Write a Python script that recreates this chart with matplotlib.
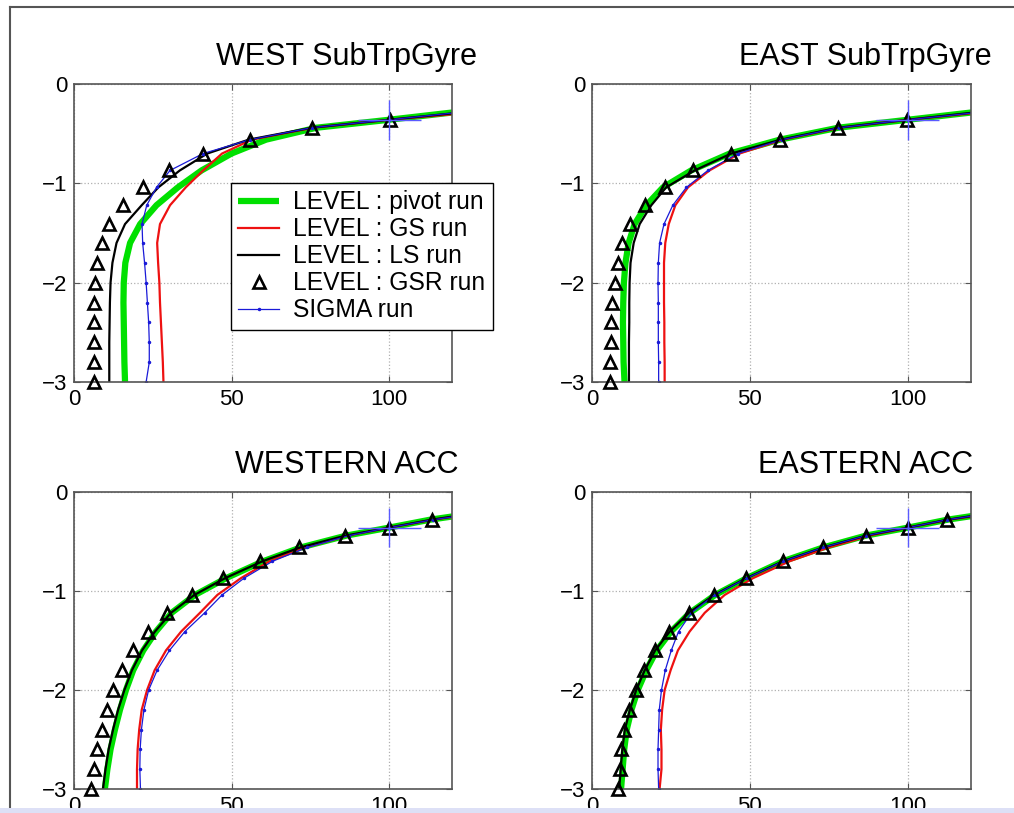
import numpy as np
import matplotlib
matplotlib.use("Agg")
import matplotlib.pyplot as plt
from matplotlib.lines import Line2D
from matplotlib.patches import Rectangle

plt.rcParams['font.family'] = ['Liberation Sans', 'DejaVu Sans']

# Niveaux verticaux (communs a toutes les courbes)
levels = [-3.0, -2.8, -2.6, -2.4, -2.2, -2.0, -1.8, -1.6, -1.41, -1.22,
          -1.04, -0.87, -0.70, -0.56, -0.44, -0.36, -0.28, -0.22]

titles = ["WEST SubTrpGyre", "EAST SubTrpGyre", "WESTERN ACC", "EASTERN ACC"]
labels = ["LEVEL : pivot run", "LEVEL : GS run", "LEVEL : LS run",
          "LEVEL : GSR run", "SIGMA run"]

# WEST SubTrpGyre
w_pivot = [16.2, 16.0, 15.9, 15.8, 15.7, 15.8, 16.3, 17.8, 21.0, 26.2, 33.0, 40.5, 50.0, 61.0, 77.0, 100, 122, 150]
w_gs    = [28.4, 28.2, 27.9, 27.6, 27.3, 27.1, 26.7, 26.4, 27.3, 30.5, 35.5, 41.0, 47.0, 56.5, 76.0, 100, 129, 155]
w_ls    = [11.2, 11.2, 11.2, 11.3, 11.4, 11.6, 12.2, 13.5, 16.2, 21.5, 26.8, 33.6, 42.3, 55.5, 75.5, 100, 125, 152]
w_gsr   = [6.4, 6.5, 6.5, 6.5, 6.5, 6.8, 7.2, 8.8, 11.1, 15.7, 22.0, 30.3, 40.8, 55.9, 75.4, 100.3]
w_sigma = [22.9, 23.9, 23.9, 23.7, 23.3, 22.9, 22.4, 21.8, 21.6, 23.1, 26.2, 30.5, 41.0, 55.9, 75.4, 100, 124, 150]

# EAST SubTrpGyre
e_pivot = [10.3, 10.0, 9.9, 9.8, 9.9, 10.1, 10.6, 11.6, 13.5, 17.2, 22.5, 31.4, 43.6, 59.5, 78.0, 100, 122, 150]
e_gs    = [23.0, 23.0, 22.9, 22.9, 22.8, 22.8, 22.8, 23.2, 24.3, 26.4, 30.4, 37.2, 46.7, 60.5, 78.5, 100, 125, 152]
e_ls    = [11.7, 11.7, 11.7, 11.8, 11.8, 11.9, 12.2, 13.2, 15.1, 18.8, 23.5, 32.5, 44.1, 59.8, 78.0, 100, 123, 150]
e_gsr   = [5.6, 5.6, 5.9, 6.1, 6.3, 7.2, 8.2, 9.6, 12.1, 16.7, 23.0, 31.9, 43.9, 59.5, 78.0, 99.8]
e_sigma = [21.1, 21.1, 21.0, 21.0, 21.0, 20.9, 21.0, 21.4, 22.8, 25.6, 29.9, 36.7, 46.2, 60.2, 78.3, 100, 124, 151]

# WESTERN ACC
wa_pivot = [9.8, 10.6, 11.6, 13.0, 14.6, 16.5, 18.8, 22.0, 26.0, 31.0, 38.4, 48.3, 60.0, 72.0, 86.5, 100, 113, 126]
wa_gs    = [20.0, 20.0, 20.2, 20.7, 21.5, 23.2, 25.6, 29.2, 34.0, 40.0, 45.5, 53.0, 62.0, 73.5, 87.0, 100, 114, 127]
wa_ls    = [9.2, 10.0, 11.0, 12.4, 14.0, 16.0, 18.4, 21.6, 25.7, 30.8, 38.2, 48.0, 59.8, 71.8, 86.3, 100, 113.5, 126]
wa_gsr   = [5.3, 6.3, 7.2, 8.8, 10.6, 12.5, 15.1, 18.8, 23.4, 29.4, 37.4, 47.2, 59.0, 71.5, 86.0, 100, 113.5]
wa_sigma = [21.1, 20.9, 21.0, 21.4, 22.2, 23.7, 26.4, 30.3, 35.2, 41.5, 47.0, 54.0, 63.0, 74.0, 87.3, 100, 114, 127]

# EASTERN ACC
ea_pivot = [9.2, 9.7, 10.2, 11.0, 12.5, 14.5, 17.2, 20.5, 25.0, 31.0, 39.0, 49.0, 60.4, 73.2, 86.8, 100, 112.5, 125]
ea_gs    = [21.4, 22.0, 22.0, 21.8, 22.2, 23.0, 24.9, 27.2, 30.9, 35.7, 42.0, 51.0, 62.5, 75.0, 88.0, 100, 113, 126]
ea_ls    = [8.6, 9.1, 9.6, 10.4, 12.0, 14.0, 16.7, 20.0, 24.6, 30.7, 38.7, 48.9, 60.4, 73.2, 86.8, 100, 112.5, 125]
ea_gsr   = [8.2, 8.8, 9.3, 10.1, 11.7, 13.8, 16.5, 19.8, 24.4, 30.6, 38.6, 48.9, 60.4, 73.2, 86.8, 100, 112.3]
ea_sigma = [21.1, 20.9, 20.9, 21.1, 21.3, 22.0, 23.2, 25.1, 27.4, 31.5, 38.8, 49.0, 60.5, 73.2, 86.8, 100, 112.5, 125]

panels = [
    (w_pivot, w_gs, w_ls, w_gsr, w_sigma),
    (e_pivot, e_gs, e_ls, e_gsr, e_sigma),
    (wa_pivot, wa_gs, wa_ls, wa_gsr, wa_sigma),
    (ea_pivot, ea_gs, ea_ls, ea_gsr, ea_sigma),
]

# Croix d'erreur (meme dans les 4 panneaux)
cross_x, cross_y = 100, -0.36
cross_dx, cross_dy = 10, 0.2

W, H = 1014, 813
fig = plt.figure(figsize=(W / 100, H / 100), dpi=100)

# positions des axes en pixels : gauche, haut, largeur, hauteur
boxes = [(74, 84, 378, 298), (592, 84, 379, 298),
         (74, 492, 378, 297), (592, 492, 379, 297)]

axes = []
for (l, t, w, h), title, data in zip(boxes, titles, panels):
    ax = fig.add_axes([l / W, 1 - (t + h) / H, w / W, h / H])
    pivot, gs, ls, gsr, sigma = data
    ax.plot(pivot, levels, color='#00e000', lw=4.5, solid_capstyle='butt', label=labels[0])
    ax.plot(gs, levels, color='#ee1111', lw=1.6, label=labels[1])
    ax.plot(ls, levels, color='black', lw=1.6, label=labels[2])
    ax.plot(gsr, levels[:len(gsr)], ls='none', marker='^', ms=8.5, mfc='none',
            mec='black', mew=1.9, clip_on=False, zorder=4, label=labels[3])
    ax.plot(sigma, levels, color='#1a1ad8', lw=0.9, marker='.', ms=3, label=labels[4])
    ax.errorbar(cross_x, cross_y, xerr=cross_dx, yerr=cross_dy, fmt='none',
                ecolor='#5a5aff', elinewidth=1.0, capsize=0, zorder=5)

    ax.set_xlim(0, 120)
    ax.set_ylim(-3, 0)
    ax.set_xticks([0, 50, 100])
    ax.set_yticks([-3, -2, -1, 0])
    ax.grid(True, linestyle=':', color='#b0b0b0', lw=0.9)
    ax.tick_params(direction='in', top=True, right=True, length=4, width=0.8,
                   color='#555555', labelsize=16, pad=5)
    for sp in ax.spines.values():
        sp.set_color('#555555')
        sp.set_linewidth(1.2)
    ax.text(0.722, 1 + 19 / h, title, transform=ax.transAxes, ha='center',
            va='baseline', fontsize=22)
    axes.append(ax)

leg = axes[0].legend(loc='upper left', bbox_to_anchor=(231 / W, 1 - 183 / H),
                     bbox_transform=fig.transFigure, fontsize=17.7, frameon=True,
                     fancybox=False, edgecolor='black', framealpha=1,
                     borderpad=0.3, labelspacing=0.12, handlelength=1.67,
                     handletextpad=0.57, borderaxespad=0)
leg.get_frame().set_linewidth(1.0)
leg.set_zorder(10)

# cadre exterieur
fig.add_artist(Line2D([10 / W, 1], [1 - 7 / H, 1 - 7 / H], transform=fig.transFigure,
                      color='#555555', lw=1.5))
fig.add_artist(Line2D([10 / W, 10 / W], [0, 1 - 7 / H], transform=fig.transFigure,
                      color='#555555', lw=1.5))
# bande claire en bas
fig.add_artist(Rectangle((0, 0), 1, 5 / H, transform=fig.transFigure,
                         facecolor='#dde0f6', edgecolor='none', zorder=20))

fig.savefig("out.png", dpi=100)
